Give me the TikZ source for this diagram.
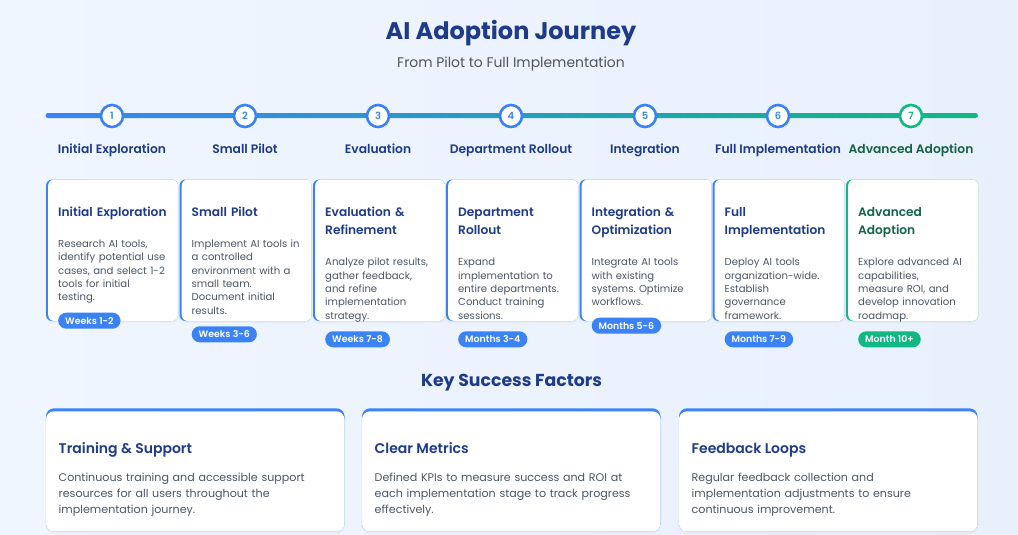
\documentclass[tikz,border=0pt]{standalone}
\usepackage{fontspec}
\setmainfont{Poppins}
\newfontfamily\semib{Poppins SemiBold}
\frenchspacing
\definecolor{navy}{RGB}{30,58,138}
\definecolor{blueA}{RGB}{59,130,246}
\definecolor{greenA}{RGB}{16,185,129}
\definecolor{greenD}{RGB}{20,100,70}
\definecolor{txtgray}{RGB}{75,85,99}
\definecolor{bgL}{RGB}{240,246,255}
\definecolor{bgR}{RGB}{232,240,252}
\tikzset{
  stitle/.style={font=\fontsize{12.2}{18.3}\selectfont\semib, text=navy, anchor=base west, inner sep=0, align=left, text width=140},
  sdesc/.style={font=\fontsize{10.1}{13.4}\selectfont, text=txtgray, anchor=base west, inner sep=0, align=left, text width=140},
  badge/.style={text=white, font=\fontsize{9.4}{9}\selectfont\semib, rounded corners=8, minimum height=16, inner xsep=7, inner ysep=0, anchor=west},
  stepcircle/.style={circle, draw=blueA, line width=2.6, fill=white, minimum size=22, inner sep=0, text=blueA, font=\fontsize{10}{10}\selectfont\semib},
  steplabel/.style={font=\fontsize{12.3}{14}\selectfont\semib, text=navy, anchor=base, inner sep=0},
  ktitle/.style={font=\fontsize{14}{16}\selectfont\semib, text=navy, anchor=base west, inner sep=0},
  kdesc/.style={font=\fontsize{11.1}{16}\selectfont, text=txtgray, anchor=base west, inner sep=0, align=left, text width=290},
}
\newcommand\stagecard[9]{%
  \fill[black, opacity=0.025, rounded corners=7] (#2-1,181) rectangle ++(134,142);
  \fill[#3, rounded corners=6] (#2,179.5) rectangle ++(132,141.5);
  \fill[white, rounded corners=6] (#2+2.2,179.5) rectangle ++(129.8,141.5);
  \node[stitle, text=#4] (t#1) at (#2+12,216) {#5};
  \node[sdesc] (d#1) at (#2+12,#7) {#6};
  \node[badge, fill=#3] (b#1) at (#2+12,#8) {#9};
}
\newcommand\keycard[4]{%
  \fill[black, opacity=0.025, rounded corners=9] (#2-1,410) rectangle ++(300.5,124);
  \fill[blueA, rounded corners=8] (#2,408.3) rectangle ++(298.5,123.4);
  \fill[white, rounded corners=8] (#2,411.3) rectangle ++(298.5,120.4);
  \node[ktitle] (k#1) at (#2+12.5,453.3) {#3};
  \node[kdesc] (kd#1) at (#2+12.5,481.7) {#4};
}
\begin{document}
\begin{tikzpicture}[x=1pt,y=-1pt]
\useasboundingbox (0,0) rectangle (1018,535);
\shade[left color=bgL, right color=bgR] (0,0) rectangle (1018,535);
% title
\node[font=\fontsize{24}{26}\selectfont\bfseries, text=navy, anchor=base, inner sep=0] (title) at (511,40) {AI Adoption Journey};
\node[font=\fontsize{13.9}{15}\selectfont, text=txtgray, anchor=base, inner sep=0] (subtitle) at (511,67.7) {From Pilot to Full Implementation};
% timeline
\shade[left color=blueA, right color=greenA, rounded corners=2.5] (45.5,113) rectangle (978,118);
\foreach \i/\x in {1/112,2/245,3/378,4/511,5/645,6/778}{
  \node[stepcircle] (s\i) at (\x,116) {\i};
}
\node[stepcircle, draw=greenA, text=greenA] (s7) at (911,116) {7};
\node[steplabel] (l1) at (112,153) {Initial Exploration};
\node[steplabel] (l2) at (245,153) {Small Pilot};
\node[steplabel] (l3) at (378,153) {Evaluation};
\node[steplabel] (l4) at (511,153) {Department Rollout};
\node[steplabel] (l5) at (645,153) {Integration};
\node[steplabel] (l6) at (778,153) {Full Implementation};
\node[steplabel, text=greenD] (l7) at (911,153) {Advanced Adoption};
% stage cards
\stagecard{1}{46}{blueA}{navy}{Initial Exploration}{Research AI tools,\\identify potential use\\cases, and select 1-2\\tools for initial\\testing.}{247.3}{320.7}{Weeks 1-2}
\stagecard{2}{179.5}{blueA}{navy}{Small Pilot}{Implement AI tools in\\a controlled\\environment with a\\small team.\\Document initial\\results.}{247.3}{334.3}{Weeks 3-6}
\stagecard{3}{313}{blueA}{navy}{Evaluation \&\\Refinement}{Analyze pilot results,\\gather feedback,\\and refine\\implementation\\strategy.}{265.7}{339.3}{Weeks 7-8}
\stagecard{4}{446}{blueA}{navy}{Department\\Rollout}{Expand\\implementation to\\entire departments.\\Conduct training\\sessions.}{265.7}{339.3}{Months 3-4}
\stagecard{5}{579.5}{blueA}{navy}{Integration \&\\Optimization}{Integrate AI tools\\with existing\\systems. Optimize\\workflows.}{265.7}{325.7}{Months 5-6}
\stagecard{6}{712.5}{blueA}{navy}{Full\\Implementation}{Deploy AI tools\\organization-wide.\\Establish\\governance\\framework.}{265.7}{339.3}{Months 7-9}
\stagecard{7}{846}{greenA}{greenD}{Advanced\\Adoption}{Explore advanced AI\\capabilities,\\measure ROI, and\\develop innovation\\roadmap.}{265.7}{339.3}{Month 10+}
% key success factors
\node[font=\fontsize{17.3}{19}\selectfont\bfseries, text=navy, anchor=base, inner sep=0] (ksf) at (511.5,386.7) {Key Success Factors};
\keycard{1}{46}{Training \& Support}{Continuous training and accessible support\\resources for all users throughout the\\implementation journey.}
\keycard{2}{362}{Clear Metrics}{Defined KPIs to measure success and ROI at\\each implementation stage to track progress\\effectively.}
\keycard{3}{679}{Feedback Loops}{Regular feedback collection and\\implementation adjustments to ensure\\continuous improvement.}
\end{tikzpicture}
\end{document}
